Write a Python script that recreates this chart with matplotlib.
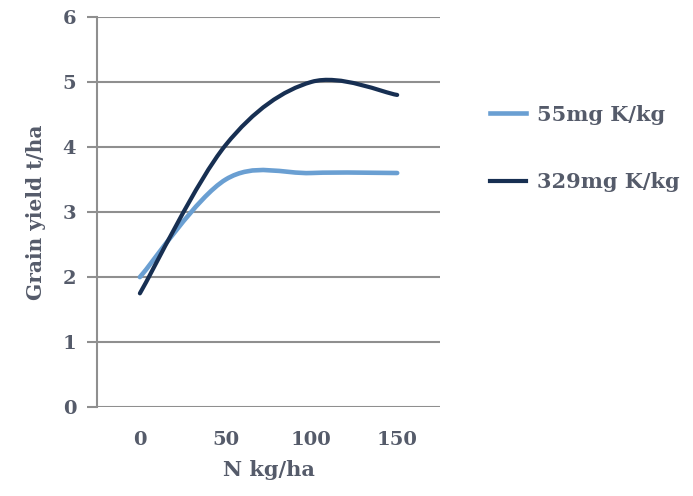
import matplotlib
matplotlib.use("Agg")
import matplotlib.pyplot as plt
import numpy as np
from matplotlib.path import Path
from matplotlib.patches import PathPatch

n_rates = [0, 50, 100, 150]
yield_55 = [2.0, 3.5, 3.6, 3.6]
yield_329 = [1.75, 4.03, 5.0, 4.8]
series_labels = ["55mg K/kg", "329mg K/kg"]
x_ticks = [0, 50, 100, 150]
y_ticks = [0, 1, 2, 3, 4, 5, 6]

TEXT = "#555b6a"
GRID = "#8f8f8f"
C_LIGHT = "#6a9fd2"
C_DARK = "#172f52"
FONT = "DejaVu Serif"


def smooth_path(xs, ys):
    pts = np.column_stack([xs, ys]).astype(float)
    n = len(pts)
    verts = [pts[0]]
    codes = [Path.MOVETO]
    for i in range(n - 1):
        p_prev = pts[i - 1] if i > 0 else pts[i]
        p0 = pts[i]
        p1 = pts[i + 1]
        p_next = pts[i + 2] if i + 2 < n else pts[i + 1]
        c1 = p0 + (p1 - p_prev) / 6.0
        c2 = p1 - (p_next - p0) / 6.0
        verts += [c1, c2, p1]
        codes += [Path.CURVE4] * 3
    return Path(verts, codes)


fig = plt.figure(figsize=(6.93, 4.96), dpi=100)
ax = fig.add_axes([0.140, 0.179, 0.495, 0.787])

for ys, col, lw, lab in [(yield_55, C_LIGHT, 3.3, series_labels[0]),
                         (yield_329, C_DARK, 3.0, series_labels[1])]:
    patch = PathPatch(smooth_path(n_rates, ys), facecolor="none", edgecolor=col,
                      linewidth=lw, capstyle="round", joinstyle="round", zorder=3)
    ax.add_patch(patch)
    ax.plot([], [], color=col, linewidth=lw, label=lab)

ax.set_xlim(-25, 175)
ax.set_ylim(0, 6)
ax.set_xticks(x_ticks)
ax.set_yticks(y_ticks)
ax.yaxis.grid(True, color=GRID, linewidth=1.5)
ax.set_axisbelow(True)
for s in ["top", "right", "bottom"]:
    ax.spines[s].set_visible(False)
ax.spines["left"].set_color(GRID)
ax.spines["left"].set_linewidth(1.5)
ax.tick_params(axis="x", length=0, pad=17, labelsize=14, labelcolor=TEXT)
ax.tick_params(axis="y", length=7, width=1.5, color=GRID, pad=8, labelsize=14, labelcolor=TEXT)
for lbl in ax.get_xticklabels() + ax.get_yticklabels():
    lbl.set_fontfamily(FONT)
    lbl.set_fontweight("bold")

ax.set_xlabel("N kg/ha", fontsize=15, fontweight="bold", color=TEXT, family=FONT, labelpad=8)
ax.set_ylabel("Grain yield t/ha", fontsize=14.5, fontweight="bold", color=TEXT, family=FONT, labelpad=12)

leg = fig.legend(loc="upper left", bbox_to_anchor=(0.68, 0.827), frameon=False,
                 prop={"family": FONT, "weight": "bold", "size": 15},
                 handlelength=1.75, handletextpad=0.5, labelspacing=2.3)
for t in leg.get_texts():
    t.set_color(TEXT)

fig.savefig("out.png", dpi=100)
